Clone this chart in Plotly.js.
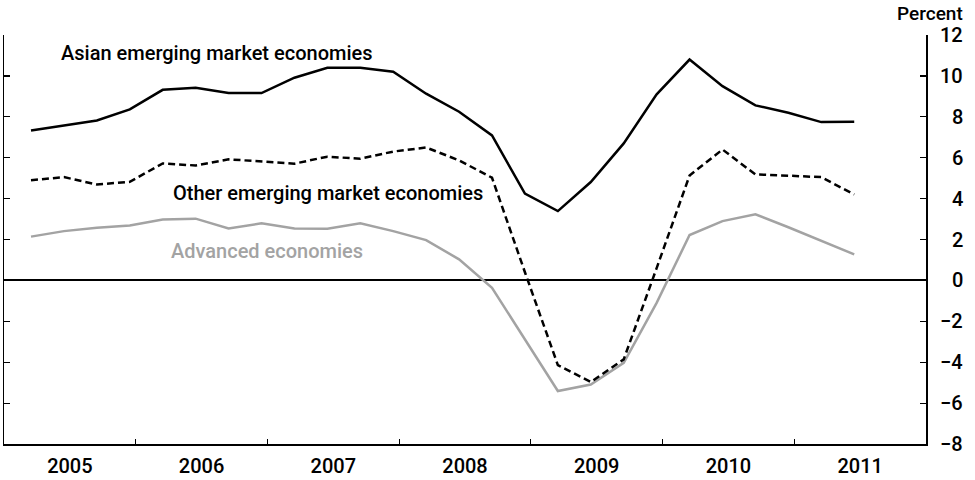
<!DOCTYPE html>
<html>
<head>
<meta charset="utf-8">
<script src="https://cdn.plot.ly/plotly-3.0.1.min.js"></script>
<style>html,body{margin:0;padding:0;background:#fff;}#chart{width:975px;height:480px;}</style>
</head>
<body>
<div id="chart"></div>
<script>
// Quarterly observations, 2005 Q1 – 2011 Q2
const years = [2005, 2006, 2007, 2008, 2009, 2010, 2011];
const quarterOffset = 0.205; // position of each observation inside its quarter
const asian = [7.33, 7.58, 7.82, 8.36, 9.32, 9.42, 9.16, 9.16, 9.91, 10.4, 10.4, 10.2, 9.13, 8.25, 7.09, 4.24, 3.39, 4.81, 6.70, 9.10, 10.8, 9.5, 8.56, 8.2, 7.74, 7.76];
const otherEm = [4.9, 5.05, 4.69, 4.82, 5.72, 5.62, 5.92, 5.83, 5.71, 6.05, 5.95, 6.3, 6.5, 5.87, 5.02, 0.4, -4.14, -4.97, -3.86, 0.6, 5.13, 6.4, 5.18, 5.12, 5.05, 4.2];
const advanced = [2.14, 2.41, 2.58, 2.69, 2.98, 3.02, 2.54, 2.79, 2.54, 2.53, 2.79, 2.41, 1.97, 1.03, -0.36, -2.9, -5.41, -5.09, -4.03, -1.1, 2.22, 2.9, 3.23, 2.6, 1.92, 1.27];
const yTicks = [12, 10, 8, 6, 4, 2, 0, -2, -4, -6, -8];
const yTickText = ['12', '10', '8', '6', '4', '2', '0', '\u22122', '\u22124', '\u22126', '\u22128'];

const xs = asian.map((_, i) => years[0] + quarterOffset + 0.25 * i);
const FONT = 'Roboto, "Liberation Sans", sans-serif';

const traces = [
  {x: xs, y: advanced, type: 'scatter', mode: 'lines', line: {color: '#a3a3a3', width: 2.5}, hoverinfo: 'skip'},
  {x: xs, y: otherEm, type: 'scatter', mode: 'lines', line: {color: '#000', width: 2.5, dash: '7px,4px'}, hoverinfo: 'skip'},
  {x: xs, y: asian, type: 'scatter', mode: 'lines', line: {color: '#000', width: 2.5}, hoverinfo: 'skip'}
];

const annotations = [];
yTicks.forEach((v, i) => {
  annotations.push({xref: 'paper', yref: 'y', x: 1, y: v, xanchor: 'right', yanchor: 'middle',
    xshift: 39, showarrow: false, text: yTickText[i], font: {family: FONT, size: 20, color: '#000', weight: 500}});
});
annotations.push({xref: 'paper', yref: 'paper', x: 1, y: 1, xanchor: 'right', yanchor: 'bottom', xshift: 39, yshift: 8,
  showarrow: false, text: 'Percent', font: {family: FONT, size: 19, color: '#000', weight: 500}});
annotations.push({xref: 'x', yref: 'y', x: 2005.42, y: 11.1, xanchor: 'left', yanchor: 'middle', showarrow: false,
  text: 'Asian emerging market economies', font: {family: FONT, size: 20, color: '#000', weight: 500}});
annotations.push({xref: 'x', yref: 'y', x: 2006.27, y: 4.25, xanchor: 'left', yanchor: 'middle', showarrow: false,
  text: 'Other emerging market economies', font: {family: FONT, size: 20, color: '#000', weight: 500}});
annotations.push({xref: 'x', yref: 'y', x: 2006.25, y: 1.42, xanchor: 'left', yanchor: 'middle', showarrow: false,
  text: 'Advanced economies', font: {family: FONT, size: 20, color: '#a3a3a3', weight: 500}});

const layout = {
  width: 975, height: 480,
  margin: {l: 4, r: 49, t: 35, b: 36, pad: 0},
  paper_bgcolor: '#fff', plot_bgcolor: '#fff',
  showlegend: false,
  font: {family: FONT, size: 20, color: '#000'},
  xaxis: {
    range: [years[0], years[years.length - 1] + 1],
    tickmode: 'array',
    tickvals: years.map(y => y + 0.5),
    ticktext: years.map(String),
    ticks: '', showgrid: false, zeroline: false,
    ticklabelstandoff: 3,
    showline: true, linecolor: '#000', linewidth: 1.5,
    tickfont: {family: FONT, size: 20, color: '#000', weight: 500},
    minor: {tickmode: 'array', tickvals: years.slice(1), ticks: 'inside', ticklen: 5, tickcolor: '#000', tickwidth: 1.2, showgrid: false},
    fixedrange: true
  },
  yaxis: {
    side: 'right',
    range: [-8, 12],
    tickmode: 'array', tickvals: yTicks,
    showticklabels: false,
    ticks: 'inside', ticklen: 6, tickcolor: '#000', tickwidth: 1.2,
    showline: true, linecolor: '#000', linewidth: 1.5, mirror: 'ticks',
    showgrid: false,
    zeroline: true, zerolinecolor: '#000', zerolinewidth: 1.8,
    fixedrange: true
  },
  annotations: annotations
};

Plotly.newPlot('chart', traces, layout, {displayModeBar: false, staticPlot: true});
</script>
</body>
</html>
